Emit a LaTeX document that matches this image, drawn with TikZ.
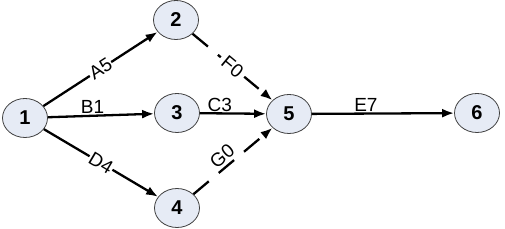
\documentclass[tikz,border=0pt]{standalone}
\usepackage{fontspec}
\setmainfont{Liberation Sans}
\usetikzlibrary{shapes.geometric,arrows.meta}
\definecolor{nodefill}{HTML}{E6EBF5}
\definecolor{nodeline}{HTML}{404040}
\tikzset{
  event/.style={ellipse, draw=nodeline, fill=nodefill, line width=0.8pt,
    minimum width=45pt, minimum height=39pt, inner sep=0pt, font=\fontsize{20}{20}\selectfont\bfseries},
  act/.style={line width=2.3pt, -{Latex[length=12pt,width=9pt]}},
  dummy/.style={act, dash pattern=on 20pt off 13pt},
  lbl/.style={font=\fontsize{19}{19}\selectfont, inner sep=1pt}
}
\begin{document}
\begin{tikzpicture}[x=1pt, y=-1pt]
        \useasboundingbox (0,0) rectangle (505,229);
        % events
        \node[event] (e1) at (25,118) {1};
        \node[event] (e2) at (176,20) {2};
        \node[event] (e3) at (177,113) {3};
        \node[event] (e4) at (177,208) {4};
        \node[event] (e5) at (289,114) {5};
        \node[event] (e6) at (477,113) {6};

        % activities
        \draw[act] (e1) -- node[lbl, fill=white, sloped] {A5} (e2);
        \draw[act] (e1) -- node[lbl, above, pos=0.42] {B1} (e3);
        \draw[act] (e1) -- node[lbl, fill=white, sloped] {D4} (e4);
        \draw[act] (e3) -- node[lbl, above, pos=0.3] {C3} (e5);
        \draw[act] (e5) -- node[lbl, above, pos=0.38] {E7} (e6);

        % dummy activities
        \draw[dummy] (e2) -- node[lbl, fill=white, sloped, inner sep=4pt] {F0} (e5);
        \draw[dummy] (e4) -- node[lbl, sloped, above=2pt, pos=0.45] {G0} (e5);
\end{tikzpicture}
\end{document}
